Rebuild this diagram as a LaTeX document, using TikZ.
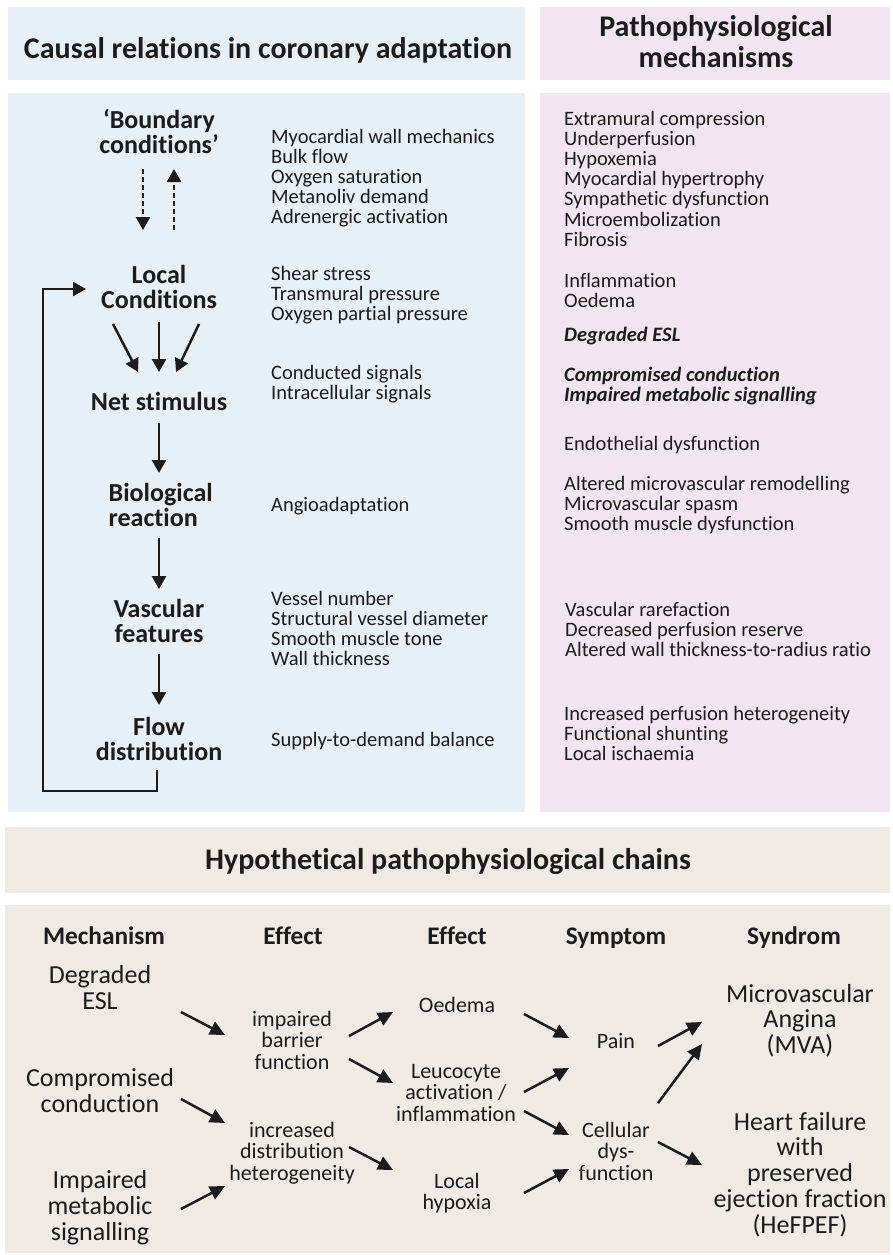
\documentclass[tikz,border=0pt]{standalone}
\usepackage{fontspec}
\setmainfont[Ligatures={NoCommon}]{Carlito}
\usetikzlibrary{arrows.meta}
\definecolor{bluebg}{HTML}{E7EFF7}
\definecolor{pinkbg}{HTML}{F2E5F2}
\definecolor{beigebg}{HTML}{F0EAE4}
\definecolor{ink}{HTML}{1C1C1C}
% name, style, anchor, x, first baseline (px from top), spacing, list of lines
\newcommand\textlines[7]{\foreach \t [count=\i] in {#7}{\node[#2,anchor=#3] (#1\i) at (#4,{-(#5)-(\i-1)*(#6)}) {\t};}}
% arrow between two named coordinates
\newcommand\arrowpq[6]{\coordinate (#1a) at (#3,-#4); \coordinate (#1b) at (#5,-#6); \draw[#2] (#1a) -- (#1b);}
\begin{document}
\begin{tikzpicture}[x=1pt,y=1pt,
  body/.style={font=\fontsize{20.5}{20.2}\selectfont, text=ink, inner sep=0pt},
  bodybi/.style={font=\fontsize{20.5}{20.2}\selectfont\bfseries\itshape, text=ink, inner sep=0pt},
  lab/.style={font=\fontsize{26}{25}\selectfont\bfseries, text=ink, inner sep=0pt},
  ttl/.style={font=\fontsize{30}{30}\selectfont\bfseries, text=ink, inner sep=0pt},
  head/.style={font=\fontsize{25.3}{25}\selectfont\bfseries, text=ink, inner sep=0pt},
  mech/.style={font=\fontsize{26}{26}\selectfont, text=ink, inner sep=0pt},
  eff/.style={font=\fontsize{22}{22}\selectfont, text=ink, inner sep=0pt},
  arr/.style={-{Triangle[length=13pt,width=14pt]}, line width=2.5pt, draw=ink},
  barr/.style={-{Triangle[length=15pt,width=14pt]}, line width=2.5pt, draw=ink},
  darr/.style={arr, dash pattern=on 5pt off 3pt}
]
\useasboundingbox (0,0) rectangle (893,-1255);
% panels
\fill[bluebg] (8,-7) rectangle (525,-80);
\fill[pinkbg] (540,-7) rectangle (890,-80);
\fill[bluebg] (8,-93) rectangle (525,-812);
\fill[pinkbg] (540,-93) rectangle (890,-812);
\fill[beigebg] (5,-827) rectangle (890,-893);
\fill[beigebg] (5,-905) rectangle (890,-1253);

% titles
\node[ttl,anchor=base] (t1) at (268,-59) {Causal relations in coronary adaptation};
\textlines{t2}{ttl}{base}{716}{37}{30}{Pathophysiological,mechanisms}
\node[ttl,anchor=base] (t3) at (448,-869) {Hypothetical pathophysiological chains};

% left flow labels
\textlines{bc}{lab}{base}{159}{128}{25}{‘Boundary,conditions’}
\textlines{lc}{lab}{base}{159}{283}{25}{Local,Conditions}
\node[lab,anchor=base] (ns) at (159,-410) {Net stimulus};
\textlines{br}{lab}{base west}{108.5}{501}{25}{Biological,reaction}
\textlines{vf}{lab}{base}{159}{617}{25}{Vascular,features}
\textlines{fd}{lab}{base}{159}{735}{25}{Flow,distribution}

% left descriptions
\textlines{bcx}{body}{base west}{271}{143}{20.2}{Myocardial wall mechanics,Bulk flow,Oxygen saturation,Metanoliv demand,Adrenergic activation}
\textlines{lcx}{body}{base west}{271}{280}{20.2}{Shear stress,Transmural pressure,Oxygen partial pressure}
\textlines{nsx}{body}{base west}{271}{379}{20.2}{Conducted signals,Intracellular signals}
\node[body,anchor=base west] (brx) at (271,-511) {Angioadaptation};
\textlines{vfx}{body}{base west}{271}{605}{20.2}{Vessel number,Structural vessel diameter,Smooth muscle tone,Wall thickness}
\node[body,anchor=base west] (fdx) at (271,-746) {Supply-to-demand balance};

% right column
\textlines{pa}{body}{base west}{564}{125}{20.2}{Extramural compression,Underperfusion,Hypoxemia,Myocardial hypertrophy,Sympathetic dysfunction,Microembolization,Fibrosis}
\textlines{pb}{body}{base west}{564}{287}{20.2}{Inflammation,Oedema}
\node[bodybi,anchor=base west] (pc) at (564,-341) {Degraded ESL};
\textlines{pd}{bodybi}{base west}{564}{381}{20.2}{Compromised conduction,Impaired metabolic signalling}
\node[body,anchor=base west] (pe) at (564,-450) {Endothelial dysfunction};
\textlines{pf}{body}{base west}{564}{490}{20.2}{Altered microvascular remodelling,Microvascular spasm,Smooth muscle dysfunction}
\textlines{pg}{body}{base west}{565}{616}{20.2}{Vascular rarefaction,Decreased perfusion reserve,Altered wall thickness-to-radius ratio}
\textlines{ph}{body}{base west}{564}{720}{20.2}{Increased perfusion heterogeneity,Functional shunting,Local ischaemia}

% left arrows
\arrowpq{da}{darr}{143}{169}{143}{230}
\arrowpq{ua}{darr}{174}{230}{174}{169}
\arrowpq{ca}{arr}{113}{324}{138}{372}
\arrowpq{cb}{arr}{159}{322}{159}{372}
\arrowpq{cc}{arr}{199}{324}{176}{372}
\arrowpq{na}{arr}{159}{423}{159}{473}
\arrowpq{ba}{arr}{159}{538}{159}{589}
\arrowpq{va}{arr}{159}{654}{159}{705}
% feedback loop
\coordinate (fb0) at (157,-770);
\coordinate (fb1) at (157,-791);
\coordinate (fb2) at (43,-791);
\coordinate (fb3) at (43,-289);
\coordinate (fb4) at (86,-289);
\draw[arr] (fb0) -- (fb1) -- (fb2) -- (fb3) -- (fb4);

% bottom headers
\node[head,anchor=base] (h1) at (104,-944) {Mechanism};
\node[head,anchor=base] (h2) at (293,-944) {Effect};
\node[head,anchor=base] (h3) at (457,-944) {Effect};
\node[head,anchor=base] (h4) at (616,-944) {Symptom};
\node[head,anchor=base] (h5) at (794,-944) {Syndrom};

% mechanisms
\textlines{m1}{mech}{base}{100}{983}{26}{Degraded,ESL}
\textlines{m2}{mech}{base}{100}{1086}{26}{Compromised,conduction}
\textlines{m3}{mech}{base}{100}{1188}{26}{Impaired,metabolic,signalling}
% effects
\textlines{e1}{eff}{base}{292}{1026}{21.8}{impaired,barrier,function}
\textlines{e2}{eff}{base}{292}{1137}{21.8}{increased,distribution,heterogeneity}
\node[eff,anchor=base] (f1) at (457,-1012) {Oedema};
\textlines{f2}{eff}{base}{456}{1078}{21.8}{Leucocyte,activation /,inflammation}
\textlines{f3}{eff}{base}{457}{1188}{21.8}{Local,hypoxia}
% symptoms
\node[eff,anchor=base] (s1) at (616,-1048) {Pain};
\textlines{s2}{eff}{base}{616}{1137}{21.8}{Cellular,dys-,function}
% syndromes
\textlines{y1}{mech}{base}{800}{1002}{25.8}{Microvascular,Angina,(MVA)}
\textlines{y2}{mech}{base}{800}{1130}{25.8}{Heart failure,with,preserved,ejection fraction,(HeFPEF)}

% bottom arrows
\arrowpq{am1}{barr}{181}{1012}{225}{1035}
\arrowpq{am2}{barr}{181}{1099}{225}{1123}
\arrowpq{am3}{barr}{181}{1209}{225}{1186}
\arrowpq{ae1}{barr}{349}{1036}{393}{1012}
\arrowpq{ae2}{barr}{349}{1059}{393}{1083}
\arrowpq{ae3}{barr}{349}{1147}{393}{1170}
\arrowpq{af1}{barr}{524}{1014}{569}{1038}
\arrowpq{af2}{barr}{524}{1092}{569}{1068}
\arrowpq{af3}{barr}{524}{1111}{569}{1135}
\arrowpq{af4}{barr}{524}{1193}{569}{1169}
\arrowpq{as1}{barr}{658}{1046}{702}{1022}
\arrowpq{as2}{barr}{658}{1103}{702}{1044}
\arrowpq{as3}{barr}{658}{1142}{702}{1165}
\end{tikzpicture}
\end{document}
